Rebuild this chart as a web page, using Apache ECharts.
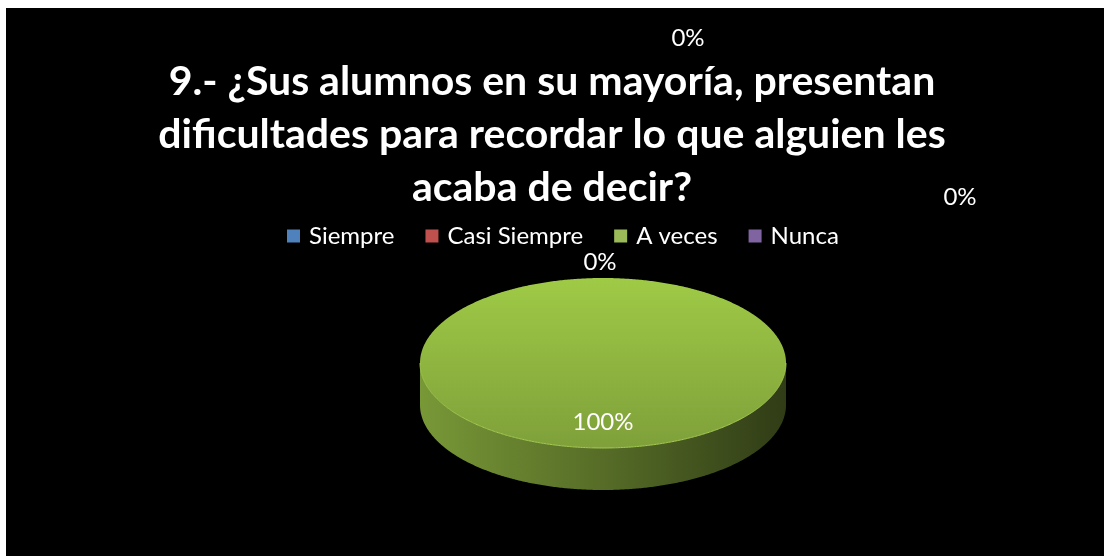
<!DOCTYPE html>
<html><head><meta charset="utf-8">
<script src="https://cdn.jsdelivr.net/npm/echarts@6/dist/echarts.min.js"></script>
<style>html,body{margin:0;padding:0;background:#fff;} #c{width:1104px;height:556px;}</style>
</head><body><div id="c"></div>
<script>
const titleText = '9.- ¿Sus alumnos en su mayoría, presentan\ndificultades para recordar lo que alguien les\nacaba de decir?';
const categories = ['Siempre', 'Casi Siempre', 'A veces', 'Nunca'];
const values = [0, 0, 100, 0];
const colors = ['#4f81bd', '#c0504d', '#9bbb59', '#8064a2'];

// layout / style (not data)
const zeroLabelPos = [[688, 38], [960, 197], null, [600, 262]];
const PIE = { cx: 603, cy: 363, rx: 183, ry: 85, depth: 42 };
const FONT = 'Lato, "Open Sans", sans-serif';

function rgb(c) { const p = echarts.color.parse(c); return [p[0], p[1], p[2]]; }
function mix(c, f, sat) {
  const [r, g, b] = rgb(c);
  const avg = (r + g + b) / 3;
  const s = v => Math.max(0, Math.min(255, Math.round((avg + (v - avg) * sat) * f)));
  return 'rgb(' + s(r) + ',' + s(g) + ',' + s(b) + ')';
}

const total = values.reduce((a, b) => a + b, 0);
const cum = []; let acc = 0; values.forEach(v => { cum.push(acc); acc += v; });

function pt(th, dy) { return [PIE.cx + PIE.rx * Math.cos(th), PIE.cy + PIE.ry * Math.sin(th) + (dy || 0)]; }
function arcPts(a, b, dy) {
  const pts = []; const n = Math.max(2, Math.ceil(Math.abs(b - a) / (Math.PI / 360)));
  for (let k = 0; k <= n; k++) pts.push(pt(a + (b - a) * k / n, dy));
  return pts;
}

function renderItem(params, api) {
  const v = api.value(0);
  const i = api.value(1);
  const c = colors[i];
  const children = [];
  const frac = total ? v / total : 0;
  const a0 = -Math.PI / 2 + 2 * Math.PI * cum[i] / total;
  const a1 = a0 + 2 * Math.PI * frac;
  const pct = Math.round(frac * 100) + '%';
  const labelStyle = { fill: '#ffffff', font: '24px ' + FONT, align: 'center', verticalAlign: 'middle' };
  if (frac > 0) {
    const sideFill = {
      type: 'linear', global: true, x: PIE.cx - PIE.rx, y: 0, x2: PIE.cx + PIE.rx, y2: 0,
      colorStops: [
        { offset: 0, color: mix(c, 0.76, 1.3) },
        { offset: 0.5, color: mix(c, 0.54, 1.3) },
        { offset: 1, color: mix(c, 0.30, 1.3) }
      ]
    };
    const topFill = {
      type: 'linear', global: true, x: 0, y: PIE.cy - PIE.ry, x2: 0, y2: PIE.cy + PIE.ry,
      colorStops: [
        { offset: 0, color: mix(c, 1.0, 1.35) },
        { offset: 1, color: mix(c, 0.80, 1.3) }
      ]
    };
    const a = Math.max(a0, 0), b = Math.min(a1, Math.PI);
    if (b > a) {
      const top = arcPts(a, b, 0), bot = arcPts(b, a, PIE.depth);
      children.push({ type: 'polygon', shape: { points: top.concat(bot) }, style: { fill: sideFill } });
    }
    const topPts = frac >= 0.99999 ? arcPts(0, 2 * Math.PI, 0) : [[PIE.cx, PIE.cy]].concat(arcPts(a0, a1, 0));
    children.push({ type: 'polygon', shape: { points: topPts }, style: { fill: topFill } });
    if (b > a) {
      children.push({ type: 'polyline', shape: { points: arcPts(a, b, 0) }, style: { stroke: mix(c, 1.05, 1.2), lineWidth: 1, fill: null } });
    }
    const m = (a0 + a1) / 2;
    children.push({ type: 'text', style: Object.assign({ text: pct, x: PIE.cx + 0.7 * PIE.rx * Math.cos(m), y: PIE.cy + 0.7 * PIE.ry * Math.sin(m) }, labelStyle) });
  } else if (zeroLabelPos[i]) {
    children.push({ type: 'text', style: Object.assign({ text: pct, x: zeroLabelPos[i][0], y: zeroLabelPos[i][1] }, labelStyle) });
  }
  return { type: 'group', children: children };
}

const chart = echarts.init(document.getElementById('c'), null, { renderer: 'canvas' });
chart.setOption({
  backgroundColor: '#ffffff',
  animation: false,
  graphic: [{ type: 'rect', z: -10, shape: { x: 6, y: 8, width: 1098, height: 548 }, style: { fill: '#000000' } }],
  title: {
    text: titleText, left: 'center', top: 50,
    textStyle: { color: '#ffffff', fontFamily: FONT, fontWeight: 'bold', fontSize: 41, lineHeight: 53 }
  },
  legend: {
    left: 282, top: 219, itemWidth: 13, itemHeight: 13, itemGap: 31, icon: 'rect',
    textStyle: { color: '#ffffff', fontFamily: FONT, fontSize: 24, padding: [0, 0, 0, 4] },
    data: categories.map((n, i) => ({ name: n, itemStyle: { color: colors[i] } }))
  },
  series: categories.map((n, i) => ({
    type: 'custom', name: n, coordinateSystem: 'none',
    itemStyle: { color: colors[i] },
    renderItem: renderItem,
    data: [[values[i], i]]
  }))
});
</script></body></html>
